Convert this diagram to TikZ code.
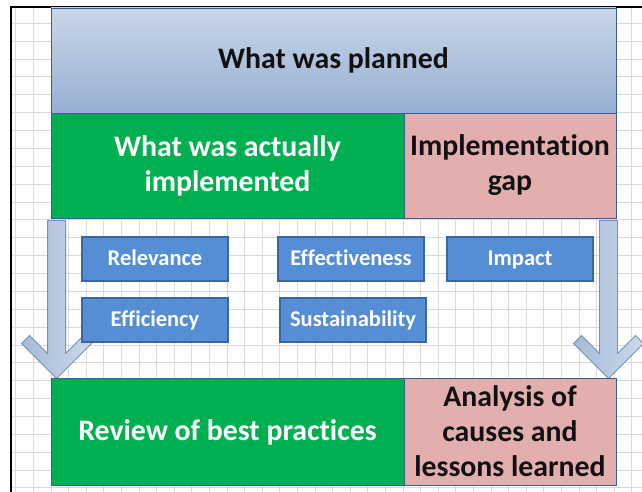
\documentclass[tikz,border=0pt]{standalone}
\usepackage{fontspec}
\setmainfont{Carlito}[Ligatures=NoCommon]
\usetikzlibrary{calc}
\definecolor{gridc}{HTML}{DADADA}
\definecolor{topA}{HTML}{C9D6E8}
\definecolor{topB}{HTML}{97AFD2}
\definecolor{bord}{HTML}{3B5E91}
\definecolor{grn}{HTML}{00B050}
\definecolor{pnk}{HTML}{E3AFAE}
\definecolor{smallfill}{HTML}{558ED5}
\definecolor{smallbord}{HTML}{3A67A3}
\definecolor{arrL}{HTML}{A5BAD8}
\definecolor{arrR}{HTML}{CDD9EA}
\definecolor{arrb}{HTML}{7290BC}
\definecolor{txtd}{HTML}{111111}
\newcommand{\bigtxt}{\bfseries\fontsize{29.8}{35}\selectfont}
\newcommand{\smalltxt}{\bfseries\fontsize{22.5}{26}\selectfont}
\begin{document}
\begin{tikzpicture}[x=1pt,y=-1pt,
  bigbox/.style={draw=bord, line width=0.9pt, inner sep=0pt, align=center, font=\bigtxt},
  planbox/.style={bigbox, top color=topA, bottom color=topB, text=txtd, minimum width=565pt, minimum height=105pt},
  greenbox/.style={bigbox, fill=grn, text=white, minimum width=353pt},
  pinkbox/.style={bigbox, fill=pnk, text=txtd, minimum width=212pt},
  critbox/.style={draw=smallbord, line width=1.2pt, fill=smallfill, text=white, font=\smalltxt, minimum width=146pt, minimum height=44pt, inner sep=0pt, text height=14pt, text depth=1pt},
  arrowbody/.style={draw=arrb, line width=0.9pt, left color=arrL, right color=arrR},
  bigarrow/.pic={\path[arrowbody] (-9,0) -- (9,0) -- (9,133) -- (27,115) -- (35,123) -- (0,158) -- (-35,123) -- (-27,115) -- (-9,133) -- cycle;}
]
\useasboundingbox (0,0) rectangle (642,492);
\fill[white] (0,0) rectangle (642,492);
% grid
\foreach \i in {0,...,35} \draw[gridc, line width=0.9pt] ({15.8+17.6*\i},7) -- ({15.8+17.6*\i},492);
\foreach \j in {0,...,26} \draw[gridc, line width=0.9pt] (11,{23.3+17.87*\j}) -- (642,{23.3+17.87*\j});
% frame
\draw[black, line width=2pt] (11,492) -- (11,7) -- (642,7);
% top boxes
\node[planbox] (plan) at (333.5,60.5) {What was planned};
\node[greenbox, minimum height=105pt] (act) at (227.5,165.5) {What was actually\\implemented};
\node[pinkbox, minimum height=105pt] (gap) at (510,165.5) {Implementation\\gap};
% arrows
\coordinate (la) at ($(act.south west)+(6,2)$);
\coordinate (ra) at ($(gap.south east)+(-8,2)$);
\pic at (la) {bigarrow};
\pic at (ra) {bigarrow};
% criteria
\node[critbox] (rel) at (155,259) {Relevance};
\node[critbox] (eff) at (351,259) {Effectiveness};
\node[critbox] (imp) at (520,259) {Impact};
\node[critbox] (efc) at (155,320) {Efficiency};
\node[critbox] (sus) at (353,320) {Sustainability};
% bottom boxes
\node[greenbox, minimum height=107pt] (rev) at (227.5,432) {Review of best practices};
\node[pinkbox, minimum height=107pt] (ana) at (510,431.5) {Analysis of\\causes and\\lessons learned};
\end{tikzpicture}
\end{document}
